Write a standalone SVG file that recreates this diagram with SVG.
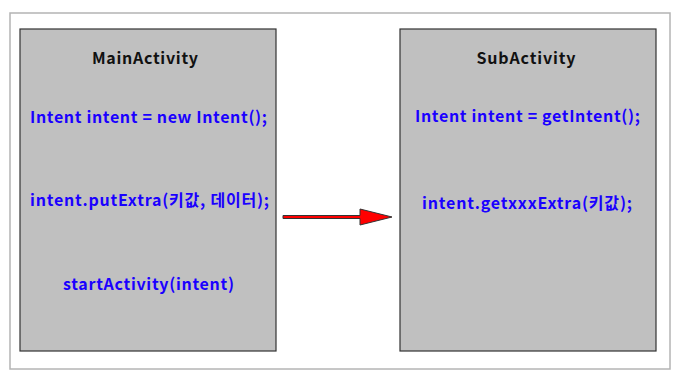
<svg xmlns="http://www.w3.org/2000/svg" width="682" height="380" viewBox="0 0 682 380">
<style>
.frame{fill:#fff;stroke:#b4b4b4;stroke-width:1.5}
.box{fill:#c0c0c0;stroke:#333;stroke-width:1.2}
.title{font-family:"Noto Sans CJK KR","Noto Sans",sans-serif;font-weight:bold;font-size:16px;fill:#111;text-anchor:middle}
.code{font-family:"Noto Sans CJK KR","Noto Sans",sans-serif;font-weight:bold;font-size:16px;fill:#1a00ff;text-anchor:middle}
.arrow{fill:#ff0000;stroke:#333;stroke-width:1}
</style>
<rect x="0" y="0" width="682" height="380" fill="#fff"/>
<rect class="frame" x="10" y="13" width="660" height="356"/>
<g id="main">
<rect class="box" x="20" y="29" width="256" height="322"/>
<text class="title" x="145" y="64" textLength="106" lengthAdjust="spacing">MainActivity</text>
<text class="code" x="148.5" y="123" textLength="237" lengthAdjust="spacing">Intent intent = new Intent();</text>
<text class="code" x="149.5" y="206" textLength="239" lengthAdjust="spacing">intent.putExtra(키값, 데이터);</text>
<text class="code" x="148.5" y="290" textLength="171" lengthAdjust="spacing">startActivity(intent)</text>
</g>
<g id="sub">
<rect class="box" x="400" y="29" width="256" height="322"/>
<text class="title" x="526" y="64" textLength="99" lengthAdjust="spacing">SubActivity</text>
<text class="code" x="527.5" y="122" textLength="225" lengthAdjust="spacing">Intent intent = getIntent();</text>
<text class="code" x="527" y="209" textLength="210" lengthAdjust="spacing">intent.getxxxExtra(키값);</text>
</g>
<g id="connectors">
<path class="arrow" d="M283,215.5 L360,215.5 L360,209 L392,217 L360,225 L360,218.5 L283,218.5 Z"/>
</g>
</svg>
